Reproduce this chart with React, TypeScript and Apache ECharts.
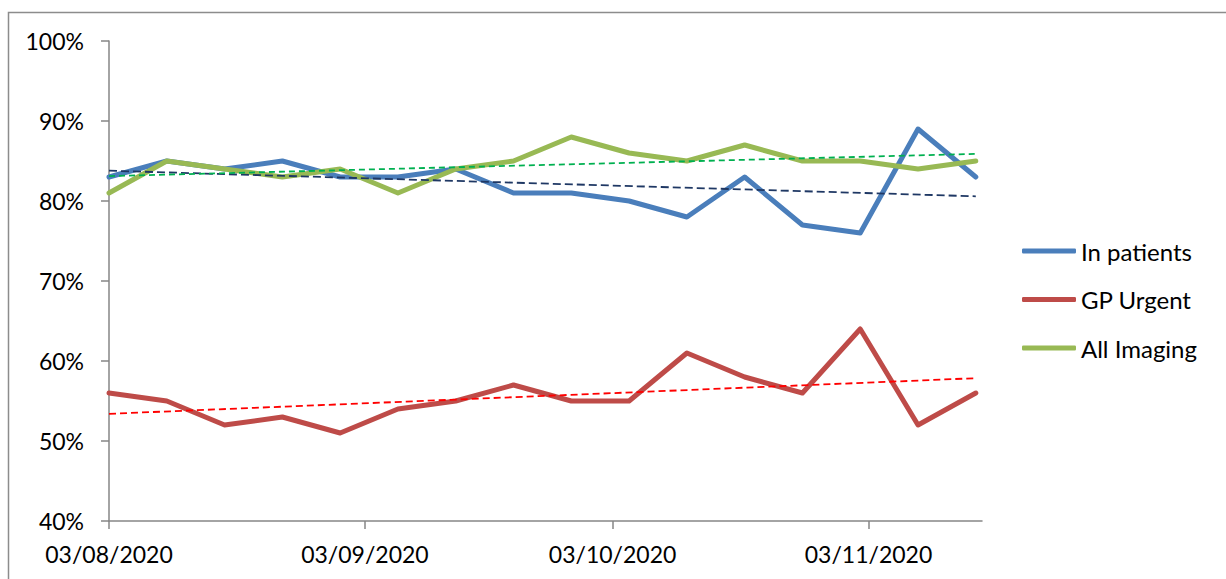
import React, { useEffect, useRef } from "react";
import * as echarts from "echarts";

const weekDates = [
  "2020-08-03", "2020-08-10", "2020-08-17", "2020-08-24", "2020-08-31", "2020-09-07",
  "2020-09-14", "2020-09-21", "2020-09-28", "2020-10-05", "2020-10-12", "2020-10-19",
  "2020-10-26", "2020-11-02", "2020-11-09", "2020-11-16",
];
const tickDates = ["2020-08-03", "2020-09-03", "2020-10-03", "2020-11-03"];
const inPatients = [83, 85, 84, 85, 83, 83, 84, 81, 81, 80, 78, 83, 77, 76, 89, 83];
const gpUrgent = [56, 55, 52, 53, 51, 54, 55, 57, 55, 55, 61, 58, 56, 64, 52, 56];
const allImaging = [81, 85, 84, 83, 84, 81, 84, 85, 88, 86, 85, 87, 85, 85, 84, 85];
const yTicks = [40, 50, 60, 70, 80, 90, 100];

const DAY = 86400000;
const toTs = (s: string) => {
  const [y, m, d] = s.split("-").map(Number);
  return Date.UTC(y, m - 1, d);
};
const BASE = toTs(weekDates[0]);
const toDay = (s: string) => Math.round((toTs(s) - BASE) / DAY);
const fmt = (day: number) => {
  const d = new Date(BASE + Math.round(day) * DAY);
  const p = (n: number) => (n < 10 ? "0" + n : "" + n);
  return `${p(d.getUTCDate())}/${p(d.getUTCMonth() + 1)}/${d.getUTCFullYear()}`;
};

const trend = (vals: number[]) => {
  const xs = weekDates.map(toDay);
  const n = vals.length;
  const mx = xs.reduce((a, b) => a + b, 0) / n;
  const my = vals.reduce((a, b) => a + b, 0) / n;
  let num = 0, den = 0;
  for (let i = 0; i < n; i++) {
    num += (xs[i] - mx) * (vals[i] - my);
    den += (xs[i] - mx) * (xs[i] - mx);
  }
  const k = num / den;
  const b = my - k * mx;
  return [
    [xs[0], b + k * xs[0]],
    [xs[n - 1], b + k * xs[n - 1]],
  ];
};

const FONT = "Lato";

export default function App() {
  const ref = useRef<HTMLDivElement>(null);
  useEffect(() => {
    if (!ref.current) return;
    const chart = echarts.init(ref.current, null, { renderer: "svg" });
    const pts = (vals: number[]) => weekDates.map((d, i) => [toDay(d), vals[i]]);
    const mainLine = (name: string, vals: number[], color: string) => ({
      name,
      type: "line",
      data: pts(vals),
      symbol: "none",
      color,
      lineStyle: { color, width: 5, cap: "round", join: "round" },
      z: 3,
    });
    const trendLine = (name: string, vals: number[], color: string, dash: number[]) => ({
      name,
      type: "line",
      data: trend(vals),
      symbol: "none",
      lineStyle: { color, width: 1.8, type: dash },
      z: 4,
    });
    const axisColor = "#868686";
    const ticks = tickDates.map(toDay);
    chart.setOption({
      animation: false,
      backgroundColor: "#ffffff",
      textStyle: { fontFamily: FONT },
      graphic: [
        {
          type: "rect",
          shape: { x: 8.5, y: 12.5, width: 1400, height: 800 },
          style: { fill: "none", stroke: "#8c8c8c", lineWidth: 1.5 },
          silent: true,
        },
      ],
      grid: { left: 109, top: 41, width: 873, height: 480, outerBoundsMode: "none", containLabel: false },
      legend: {
        data: ["In patients", "GP Urgent", "All Imaging"],
        orient: "vertical",
        left: 1017,
        top: 234,
        itemWidth: 54,
        itemHeight: 5,
        itemGap: 24.5,
        icon: "roundRect",
        textStyle: { fontFamily: FONT, fontSize: 24, color: "#000", lineHeight: 24 },
      },
      xAxis: {
        type: "value",
        min: 0,
        max: toDay(weekDates[weekDates.length - 1]) + 0.75,
        axisLine: { show: true, lineStyle: { color: axisColor, width: 1.5 } },
        axisTick: {
          show: true,
          length: 8,
          lineStyle: { color: axisColor, width: 1.5 },
          customValues: ticks,
        },
        axisLabel: {
          fontFamily: FONT,
          fontSize: 23,
          color: "#000",
          margin: 21,
          customValues: ticks,
          formatter: (v: number) => fmt(v),
        },
        splitLine: { show: false },
      },
      yAxis: {
        type: "value",
        min: yTicks[0],
        max: yTicks[yTicks.length - 1],
        interval: 10,
        axisLine: { show: true, lineStyle: { color: axisColor, width: 1.5 } },
        axisTick: { show: true, length: 8, lineStyle: { color: axisColor, width: 1.5 } },
        axisLabel: {
          fontFamily: FONT,
          fontSize: 23,
          color: "#000",
          margin: 25,
          formatter: (v: number) => `${v}%`,
        },
        splitLine: { show: false },
      },
      series: [
        mainLine("In patients", inPatients, "#4A7EBB"),
        mainLine("GP Urgent", gpUrgent, "#BE4B48"),
        mainLine("All Imaging", allImaging, "#98B954"),
        trendLine("In patients trend", inPatients, "#1F3864", [8, 4]),
        trendLine("GP Urgent trend", gpUrgent, "#FF0000", [7, 4]),
        trendLine("All Imaging trend", allImaging, "#00B050", [6, 4]),
      ],
    });
    return () => chart.dispose();
  }, []);
  return (
    <div
      ref={ref}
      style={{ position: "fixed", left: 0, top: 0, width: 1226, height: 579, background: "#fff" }}
    />
  );
}
